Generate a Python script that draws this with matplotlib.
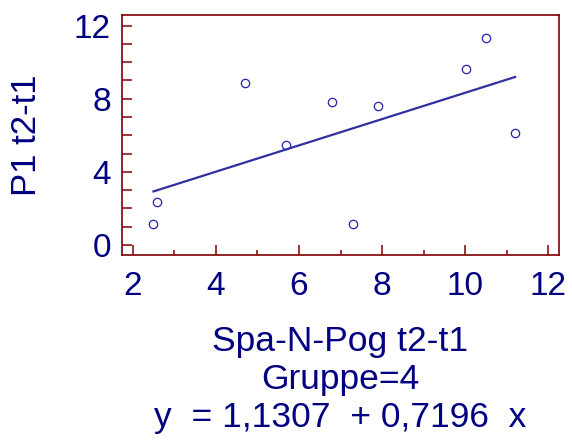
import numpy as np
import matplotlib
matplotlib.use("Agg")
import matplotlib.pyplot as plt
from matplotlib.ticker import MultipleLocator

# Spa-N-Pog t2-t1 against P1 t2-t1, group 4
spa_n_pog = [2.50, 2.59, 4.70, 5.69, 6.80, 7.30, 7.89, 10.01, 10.51, 11.20]
p1 = [1.15, 2.33, 8.84, 5.45, 7.81, 1.15, 7.63, 9.62, 11.33, 6.10]

intercept = 1.1307
slope = 0.7196
group = 4

navy = "#000080"
frame = "#800000"

plt.rcParams['font.family'] = ['Liberation Sans', 'DejaVu Sans']

fig = plt.figure(figsize=(5.72, 4.48), dpi=100, facecolor='white')
ax = fig.add_axes([0.2133, 0.4308, 0.764, 0.5357])

ax.plot(spa_n_pog, p1, linestyle='none', marker='o', markersize=6,
        markerfacecolor='none', markeredgecolor='#2424a8', markeredgewidth=0.9)

xs = np.array([min(spa_n_pog), max(spa_n_pog)])
ax.plot(xs, intercept + slope * xs, color='#3030a0', linewidth=1.6)

ax.set_xlim(1.743, 12.257)
ax.set_ylim(-0.547, 12.58)

ax.xaxis.set_major_locator(MultipleLocator(2))
ax.xaxis.set_minor_locator(MultipleLocator(1))
ax.yaxis.set_major_locator(MultipleLocator(4))
ax.yaxis.set_minor_locator(MultipleLocator(1))

for side in ax.spines.values():
    side.set_color(frame)
    side.set_linewidth(1.2)

ax.tick_params(axis='both', which='both', direction='in', color=frame,
               width=1.1, labelcolor=navy, labelsize=24)
ax.tick_params(axis='x', which='major', length=7, pad=11.5)
ax.tick_params(axis='x', which='minor', length=3.5)
ax.tick_params(axis='y', which='both', length=7.5, pad=8)
ax.tick_params(top=False, right=False, which='both')

ax.set_ylabel('P1 t2-t1', color=navy, fontsize=25)
ax.yaxis.set_label_coords(-0.181, 0.5)

eq = f'y  = {intercept:.4f}  + {slope:.4f}  x'.replace('.', ',')
ax.set_xlabel(f'Spa-N-Pog t2-t1\nGruppe={group}\n{eq}', color=navy,
              fontsize=25.5, linespacing=1.2)
ax.xaxis.set_label_coords(0.5, -0.29)

fig.savefig('out.png', dpi=100, facecolor='white')
